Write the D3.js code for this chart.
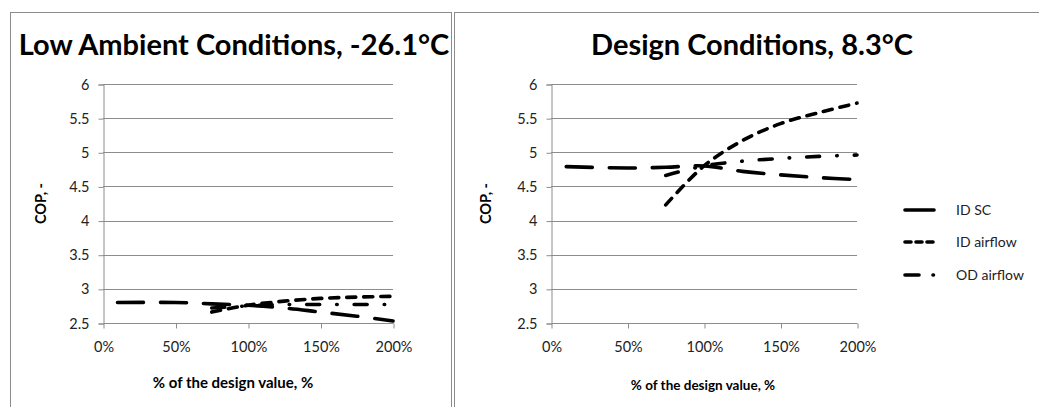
<!DOCTYPE html>
<html>
<head>
<meta charset="utf-8">
<script src="https://cdn.jsdelivr.net/npm/d3@7"></script>
<style>
  html, body { margin: 0; padding: 0; background: #fff; }
  svg { display: block; }
  text { font-family: Lato, "Open Sans", sans-serif; }
</style>
</head>
<body>
<script>
// COP versus percentage of the design value, two operating conditions
const xTicks = [0, 0.5, 1, 1.5, 2];
const yTicks = [2.5, 3, 3.5, 4, 4.5, 5, 5.5, 6];
const seriesNames = ["ID SC", "ID airflow", "OD airflow"];

// Low ambient, -26.1°C
const lowScX   = [0.10, 0.50, 0.75, 1.00, 1.25, 1.50, 1.75, 2.00];
const lowScY   = [2.80, 2.80, 2.78, 2.76, 2.72, 2.66, 2.60, 2.53];
const lowIdX   = [0.75, 1.00, 1.25, 1.50, 1.75, 2.00];
const lowIdY   = [2.66, 2.76, 2.82, 2.86, 2.88, 2.89];
const lowOdX   = [0.75, 1.00, 1.25, 1.50, 1.75, 2.00];
const lowOdY   = [2.72, 2.75, 2.77, 2.77, 2.77, 2.77];

// Design conditions, 8.3°C
const desScX   = [0.10, 0.50, 0.75, 1.00, 1.25, 1.50, 1.75, 2.00];
const desScY   = [4.79, 4.77, 4.78, 4.80, 4.72, 4.67, 4.63, 4.60];
const desIdX   = [0.75, 1.00, 1.25, 1.50, 1.75, 2.00];
const desIdY   = [4.23, 4.80, 5.17, 5.42, 5.58, 5.72];
const desOdX   = [0.75, 1.00, 1.25, 1.50, 1.75, 2.00];
const desOdY   = [4.66, 4.80, 4.87, 4.91, 4.94, 4.96];

const W = 1039, H = 407;
const svg = d3.select("body").append("svg").attr("width", W).attr("height", H);
svg.append("rect").attr("width", W).attr("height", H).attr("fill", "#fff");

const dashes = ["26 17", "9 8", "13 17 0.5 17"];
const legendDashes = ["30 40", "6 5", "14 14 0.5 20"];

function zip(xs, ys) { return xs.map((x, i) => ({ x, y: ys[i] })); }

function panel(opt) {
  // chart frame
  svg.append("rect")
    .attr("x", opt.frame[0] + 0.5).attr("y", 12.5)
    .attr("width", opt.frame[1]).attr("height", 500)
    .attr("fill", "none").attr("stroke", "#8c8c8c").attr("stroke-width", 1);

  const x = d3.scaleLinear().domain([0, 2]).range([opt.left, opt.right]);
  const y = d3.scaleLinear().domain([2.5, 6]).range([323, 84]);
  const g = svg.append("g");

  // horizontal gridlines
  g.selectAll("line.grid").data(yTicks.slice(1)).join("line")
    .attr("x1", opt.left).attr("x2", opt.right)
    .attr("y1", d => Math.round(y(d)) + 0.5).attr("y2", d => Math.round(y(d)) + 0.5)
    .attr("stroke", "#8c8c8c").attr("stroke-width", 1);

  // y axis
  const ya = g.append("g").attr("transform", `translate(${opt.left + 0.5},0.5)`)
    .call(d3.axisLeft(y).tickValues(yTicks).tickSize(5).tickPadding(9)
      .tickFormat(d3.format("")));
  // x axis
  const xa = g.append("g").attr("transform", `translate(0.5,${Math.round(y(2.5)) + 0.5})`)
    .call(d3.axisBottom(x).tickValues(xTicks).tickSize(5).tickPadding(13)
      .tickFormat(d3.format(".0%")));
  [ya, xa].forEach(a => {
    a.select(".domain").attr("stroke", "#8c8c8c");
    a.selectAll(".tick line").attr("stroke", "#8c8c8c");
    a.selectAll(".tick text").attr("fill", "#222").attr("font-size", 14.5)
      .style("font-family", "Lato, sans-serif");
  });
  xa.select(".domain").attr("d", `M${opt.left},0H${opt.right}`);

  // series
  const line = d3.line().x(d => x(d.x)).y(d => y(d.y)).curve(d3.curveCatmullRom.alpha(0.5));
  opt.series.forEach((s, i) => {
    g.append("path").datum(s).attr("d", line)
      .attr("fill", "none").attr("stroke", "#000").attr("stroke-width", 3.6)
      .attr("stroke-linecap", "round").attr("stroke-dasharray", dashes[i]);
  });

  // titles
  svg.append("text").attr("x", opt.titleX).attr("y", 55)
    .attr("text-anchor", "middle").attr("font-weight", "bold").attr("font-size", 29)
    .attr("fill", "#000").text(opt.title);
  svg.append("text").attr("x", opt.xTitleX).attr("y", opt.xTitleY)
    .attr("text-anchor", "middle").attr("font-weight", "bold").attr("font-size", opt.xTitleSize)
    .attr("fill", "#000").text("% of the design value, %");
  svg.append("text")
    .attr("transform", `translate(${opt.yTitleX},${(84 + 323) / 2}) rotate(-90)`)
    .attr("text-anchor", "middle").attr("font-weight", "bold").attr("font-size", 14.5)
    .attr("fill", "#000").text("COP, -");
}

panel({
  frame: [10, 441], left: 103, right: 393, titleX: 234,
  xTitleX: 233, xTitleY: 388, xTitleSize: 15, yTitleX: 46,
  title: "Low Ambient Conditions, -26.1°C",
  series: [zip(lowScX, lowScY), zip(lowIdX, lowIdY), zip(lowOdX, lowOdY)]
});
panel({
  frame: [454, 640], left: 551, right: 857, titleX: 752,
  xTitleX: 703, xTitleY: 390, xTitleSize: 13.5, yTitleX: 491,
  title: "Design Conditions, 8.3°C",
  series: [zip(desScX, desScY), zip(desIdX, desIdY), zip(desOdX, desOdY)]
});

// legend
const legY = [210, 242, 275];
const leg = svg.append("g");
seriesNames.forEach((name, i) => {
  leg.append("line").attr("x1", 905).attr("x2", 934)
    .attr("y1", legY[i]).attr("y2", legY[i])
    .attr("stroke", "#000").attr("stroke-width", 3.6).attr("stroke-linecap", "round")
    .attr("stroke-dasharray", legendDashes[i]);
  leg.append("text").attr("x", 956).attr("y", legY[i] + 5)
    .attr("font-size", 14).attr("fill", "#222").text(name);
});
</script>
</body>
</html>
